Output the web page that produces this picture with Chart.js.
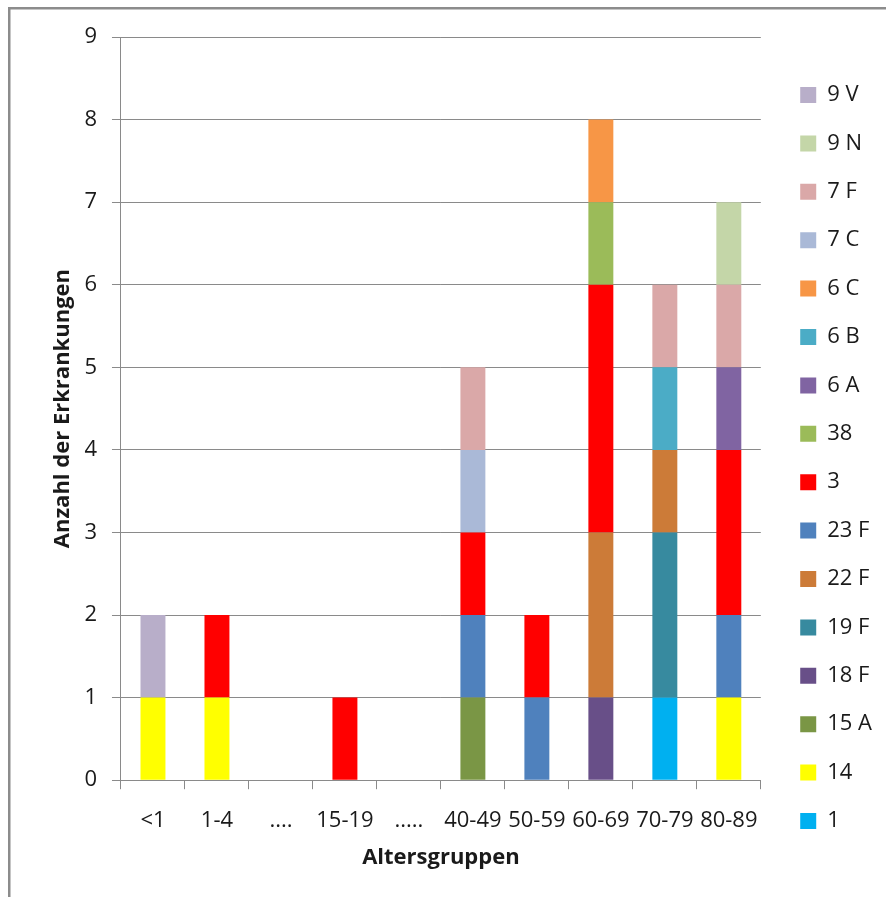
<!DOCTYPE html>
<html>
<head>
<meta charset="utf-8">
<script src="https://cdn.jsdelivr.net/npm/chart.js@4"></script>
<style>
html,body{margin:0;padding:0;background:#fff;}
canvas{display:block;}
</style>
</head>
<body>
<canvas id="c" width="886" height="897"></canvas>
<script>
const categories = ['<1','1-4','....','15-19','.....','40-49','50-59','60-69','70-79','80-89'];
const seriesNames = ['1','14','15 A','18 F','19 F','22 F','23 F','3','38','6 A','6 B','6 C','7 C','7 F','9 N','9 V'];
const s_1   = [0,0,0,0,0,0,0,0,1,0];
const s_14  = [1,1,0,0,0,0,0,0,0,1];
const s_15A = [0,0,0,0,0,1,0,0,0,0];
const s_18F = [0,0,0,0,0,0,0,1,0,0];
const s_19F = [0,0,0,0,0,0,0,0,2,0];
const s_22F = [0,0,0,0,0,0,0,2,1,0];
const s_23F = [0,0,0,0,0,1,1,0,0,1];
const s_3   = [0,1,0,1,0,1,1,3,0,2];
const s_38  = [0,0,0,0,0,0,0,1,0,0];
const s_6A  = [0,0,0,0,0,0,0,0,0,1];
const s_6B  = [0,0,0,0,0,0,0,0,1,0];
const s_6C  = [0,0,0,0,0,0,0,1,0,0];
const s_7C  = [0,0,0,0,0,1,0,0,0,0];
const s_7F  = [0,0,0,0,0,1,0,0,1,1];
const s_9N  = [0,0,0,0,0,0,0,0,0,1];
const s_9V  = [1,0,0,0,0,0,0,0,0,0];
const yTicks = [0,1,2,3,4,5,6,7,8,9];

const seriesValues = [s_1,s_14,s_15A,s_18F,s_19F,s_22F,s_23F,s_3,s_38,s_6A,s_6B,s_6C,s_7C,s_7F,s_9N,s_9V];
const colors = ['#00b0f0','#ffff00','#7a9645','#684f88','#378a9f','#cc7b38','#4f81bd','#ff0000','#9bbb59','#8064a2','#4bacc6','#f79646','#aab9d7','#daa8a8','#c4d6a8','#b8aec9'];

const FONT = 'Open Sans';
const GRAY = '#8a8a8a';

const framePlugin = {
  id: 'frame',
  beforeDraw(chart) {
    const ctx = chart.ctx;
    ctx.save();
    ctx.fillStyle = '#fff';
    ctx.fillRect(0, 0, chart.width, chart.height);
    ctx.fillStyle = '#8c8c8c';
    ctx.fillRect(8, 7, chart.width - 8, 2.5);
    ctx.fillRect(8, 7, 2.5, chart.height - 7);
    ctx.restore();
  }
};
const legendShift = {
  id: 'legendShift',
  afterLayout(chart) {
    const lg = chart.legend;
    if (lg) { lg.left += 13; lg.right += 13; lg.top -= 5; lg.bottom -= 5; }
  }
};

new Chart(document.getElementById('c'), {
  type: 'bar',
  data: {
    labels: categories,
    datasets: seriesNames.map((n, i) => ({
      label: n,
      data: seriesValues[i],
      backgroundColor: colors[i],
      borderWidth: 0,
      barPercentage: 0.39,
      categoryPercentage: 1.0
    }))
  },
  options: {
    responsive: false,
    animation: false,
    layout: { padding: { top: 37, bottom: 8, left: 0, right: 17 } },
    plugins: {
      tooltip: { enabled: false },
      legend: {
        position: 'right',
        reverse: true,
        labels: {
          boxWidth: 16, boxHeight: 16, padding: 26.4,
          color: '#1a1a1a',
          font: { family: FONT, size: 22 }
        }
      }
    },
    scales: {
      x: {
        stacked: true,
        grid: { display: true, drawOnChartArea: false, drawTicks: true, tickLength: 9, color: GRAY, offset: true },
        border: { display: true, color: GRAY, width: 1 },
        ticks: { autoSkip: false, maxRotation: 0, minRotation: 0, padding: 18, color: '#1a1a1a', font: { family: FONT, size: 22 } },
        title: { display: true, text: 'Altersgruppen', color: '#1a1a1a', font: { family: FONT, size: 22, weight: 'bold' }, padding: { top: -7, bottom: 18 } }
      },
      y: {
        stacked: true,
        min: 0, max: 9,
        afterBuildTicks(scale) { scale.ticks = yTicks.map(v => ({ value: v })); },
        grid: { color: GRAY, drawTicks: true, tickLength: 9, lineWidth: 1 },
        border: { display: true, color: GRAY, width: 1 },
        ticks: { padding: 15, color: '#1a1a1a', font: { family: FONT, size: 22 } },
        title: { display: true, text: 'Anzahl der Erkrankungen', color: '#1a1a1a', font: { family: FONT, size: 22, weight: 'bold' }, padding: { top: 50, bottom: -7 } }
      }
    }
  },
  plugins: [framePlugin, legendShift]
});
</script>
</body>
</html>
